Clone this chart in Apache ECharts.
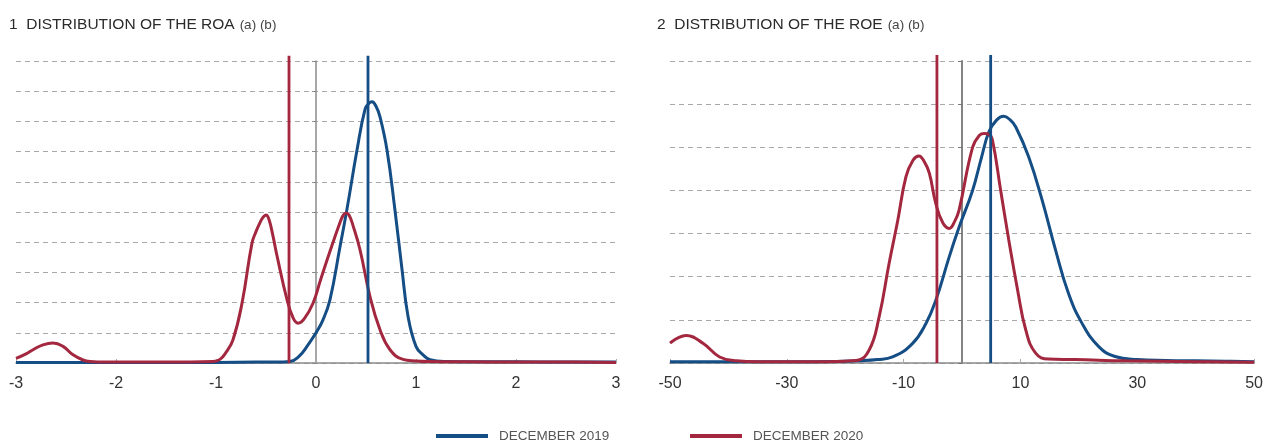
<!DOCTYPE html>
<html>
<head>
<meta charset="utf-8">
<script src="https://cdn.jsdelivr.net/npm/echarts@6/dist/echarts.min.js"></script>
<style>
html,body{margin:0;padding:0;background:#fff;}
#c{width:1266px;height:442px;}
</style>
</head>
<body>
<div id="c"></div>
<script>
// ---------- DATA ----------
const seriesNames = ['DECEMBER 2019', 'DECEMBER 2020'];

// ROA (chart 1)
const roa2019X = [-3, -2, -1, -0.6, -0.4, -0.26, -0.17, -0.09, 0, 0.07, 0.14, 0.24, 0.31, 0.41, 0.49, 0.53, 0.56, 0.6, 0.64, 0.71, 0.79, 0.86, 0.92, 1.0, 1.07, 1.14, 1.3, 1.6, 2, 2.5, 3];
const roa2019Y = [0.02, 0.02, 0.02, 0.03, 0.03, 0.05, 0.22, 0.55, 1.0, 1.43, 2.1, 3.85, 5.1, 7.05, 8.4, 8.6, 8.65, 8.5, 8.15, 7.05, 5.05, 3.1, 1.55, 0.55, 0.27, 0.11, 0.05, 0.04, 0.04, 0.03, 0.03];
const roa2020X = [-3, -2.9, -2.83, -2.73, -2.63, -2.53, -2.43, -2.33, -2.26, -2.1, -1.5, -1.03, -0.96, -0.9, -0.83, -0.74, -0.64, -0.6, -0.56, -0.53, -0.5, -0.47, -0.43, -0.39, -0.29, -0.23, -0.18, -0.12, -0.03, 0.05, 0.14, 0.24, 0.27, 0.3, 0.33, 0.37, 0.44, 0.54, 0.64, 0.74, 0.87, 1.0, 1.14, 1.5, 2, 2.5, 3];
const roa2020Y = [0.15, 0.3, 0.44, 0.6, 0.66, 0.55, 0.27, 0.1, 0.05, 0.03, 0.03, 0.05, 0.12, 0.35, 0.77, 1.98, 3.97, 4.35, 4.65, 4.82, 4.9, 4.75, 4.2, 3.55, 2.1, 1.5, 1.32, 1.45, 1.98, 2.8, 3.7, 4.65, 4.88, 4.97, 4.9, 4.55, 3.75, 2.2, 1.1, 0.44, 0.12, 0.07, 0.05, 0.04, 0.03, 0.03, 0.02];
const roaMedians = [0.52, -0.27];
const roaTicks = [-3, -2, -1, 0, 1, 2, 3];

// ROE (chart 2)
const roe2019X = [-50, -40, -30, -20, -17.6, -14.5, -11.9, -8.5, -6.2, -4.5, -2.2, -0.5, 1.8, 3.3, 4.6, 5.9, 7.1, 8.2, 9.2, 11.4, 13.7, 16, 18.2, 20.5, 23.4, 26.2, 30, 35, 40, 45, 50];
const roe2019Y = [0.03, 0.03, 0.03, 0.04, 0.05, 0.08, 0.14, 0.45, 0.91, 1.45, 2.46, 3.15, 4.0, 4.75, 5.36, 5.63, 5.72, 5.64, 5.47, 4.78, 3.78, 2.62, 1.62, 0.93, 0.38, 0.15, 0.08, 0.06, 0.05, 0.04, 0.03];
const roe2020X = [-50, -47.2, -44.3, -41.5, -38.6, -35, -25, -18.1, -15.9, -14.2, -12.5, -11, -9.6, -8.4, -7.4, -6.4, -5.6, -4.5, -3.3, -2.2, -1.2, -0.5, 1.8, 3.0, 3.8, 4.6, 5.2, 6.6, 8.0, 9.5, 10.9, 12.6, 14.8, 19.4, 28, 40, 50];
const roe2020Y = [0.46, 0.64, 0.45, 0.14, 0.05, 0.03, 0.03, 0.06, 0.3, 1.07, 2.3, 3.31, 4.32, 4.7, 4.8, 4.65, 4.4, 3.7, 3.25, 3.12, 3.3, 3.55, 5.0, 5.28, 5.32, 5.3, 5.17, 4.01, 2.85, 1.7, 0.77, 0.23, 0.09, 0.08, 0.05, 0.03, 0.02];
const roeMedians = [4.9, -4.3];
const roeTicks = [-50, -30, -10, 10, 30, 50];

// ---------- STYLE ----------
const colors = ['#154d85', '#a3283f'];
const pair = (xs, ys) => xs.map((x, i) => [x, ys[i]]);

function curve(name, idx, xs, ys, color, z) {
  return {
    type: 'line', name: name, xAxisIndex: idx, yAxisIndex: idx,
    data: pair(xs, ys), smooth: 0.45, showSymbol: false, symbol: 'none',
    lineStyle: { color: color, width: 3 }, itemStyle: { color: color }, z: z, silent: true
  };
}
function vline(name, idx, x, top, color) {
  return {
    type: 'line', name: name, xAxisIndex: idx, yAxisIndex: idx, clip: false,
    data: [[x, 0], [x, top]], showSymbol: false, symbol: 'none',
    lineStyle: { color: color, width: 2.8 }, itemStyle: { color: color }, z: 10, silent: true
  };
}

const gridLine = { show: true, lineStyle: { color: '#a8a8a8', type: [5, 4], width: 1 } };
const axisGray = '#8a8a8a';
const labelStyle = { color: '#333', fontFamily: 'Liberation Sans, Arial, sans-serif', fontSize: 16, margin: 13 };
const titleRich = {
  t: { fontSize: 15.5, color: '#2b2b2b', fontWeight: 'normal', fontFamily: 'Liberation Sans, Arial' },
  s: { fontSize: 13.5, color: '#444', fontWeight: 'normal', fontFamily: 'Liberation Sans, Arial' }
};
const legendText = { color: '#555', fontSize: 13.5, fontFamily: 'Liberation Sans, Arial', padding: [0, 0, 0, 6] };

const option = {
  animation: false,
  backgroundColor: '#fff',
  title: [
    { left: 9, top: 16, padding: 0, text: '{t|1  DISTRIBUTION OF THE ROA} {s|(a) (b)}',
      textStyle: { fontWeight: 'normal', rich: titleRich } },
    { left: 657, top: 16, padding: 0, text: '{t|2  DISTRIBUTION OF THE ROE} {s|(a) (b)}',
      textStyle: { fontWeight: 'normal', rich: titleRich } }
  ],
  legend: [
    { left: 436, top: 429, padding: 0, data: [seriesNames[0]], icon: 'rect', itemWidth: 52, itemHeight: 4, textStyle: legendText },
    { left: 690, top: 429, padding: 0, data: [seriesNames[1]], icon: 'rect', itemWidth: 52, itemHeight: 4, textStyle: legendText }
  ],
  grid: [
    { left: 16, top: 61, width: 600, height: 302, containLabel: false },
    { left: 670, top: 61, width: 587, height: 302, containLabel: false }
  ],
  xAxis: [
    { gridIndex: 0, type: 'value', min: roaTicks[0], max: roaTicks[roaTicks.length - 1], interval: 1,
      axisLine: { onZero: false, lineStyle: { color: axisGray, width: 1.5 } },
      axisTick: { show: true, inside: true, length: 4, lineStyle: { color: '#aaa' } },
      axisLabel: labelStyle, splitLine: { show: false } },
    { gridIndex: 1, type: 'value', min: roeTicks[0], max: roeTicks[roeTicks.length - 1],
      axisLine: { onZero: false, lineStyle: { color: axisGray, width: 1.5 } },
      axisTick: { show: true, inside: true, length: 4, customValues: roeTicks, lineStyle: { color: '#aaa' } },
      axisLabel: Object.assign({}, labelStyle, { customValues: roeTicks }), splitLine: { show: false } }
  ],
  yAxis: [
    { gridIndex: 0, type: 'value', min: 0, max: 10, interval: 1,
      axisLine: { show: true, onZero: true, lineStyle: { color: axisGray, width: 1.5 } },
      axisTick: { show: true, length: 4, lineStyle: { color: axisGray } },
      axisLabel: { show: false }, splitLine: gridLine },
    { gridIndex: 1, type: 'value', min: 0, max: 7, interval: 1,
      axisLine: { show: true, onZero: true, lineStyle: { color: '#777', width: 1.8 } },
      axisTick: { show: true, length: 4, lineStyle: { color: '#777' } },
      axisLabel: { show: false }, splitLine: gridLine }
  ],
  series: [
    curve(seriesNames[0], 0, roa2019X, roa2019Y, colors[0], 2),
    curve(seriesNames[1], 0, roa2020X, roa2020Y, colors[1], 3),
    vline(seriesNames[0], 0, roaMedians[0], 10.17, colors[0]),
    vline(seriesNames[1], 0, roaMedians[1], 10.17, colors[1]),
    curve(seriesNames[0], 1, roe2019X, roe2019Y, colors[0], 2),
    curve(seriesNames[1], 1, roe2020X, roe2020Y, colors[1], 3),
    vline(seriesNames[0], 1, roeMedians[0], 7.14, colors[0]),
    vline(seriesNames[1], 1, roeMedians[1], 7.14, colors[1])
  ]
};

const chart = echarts.init(document.getElementById('c'), null, { renderer: 'canvas' });
chart.setOption(option);
</script>
</body>
</html>
